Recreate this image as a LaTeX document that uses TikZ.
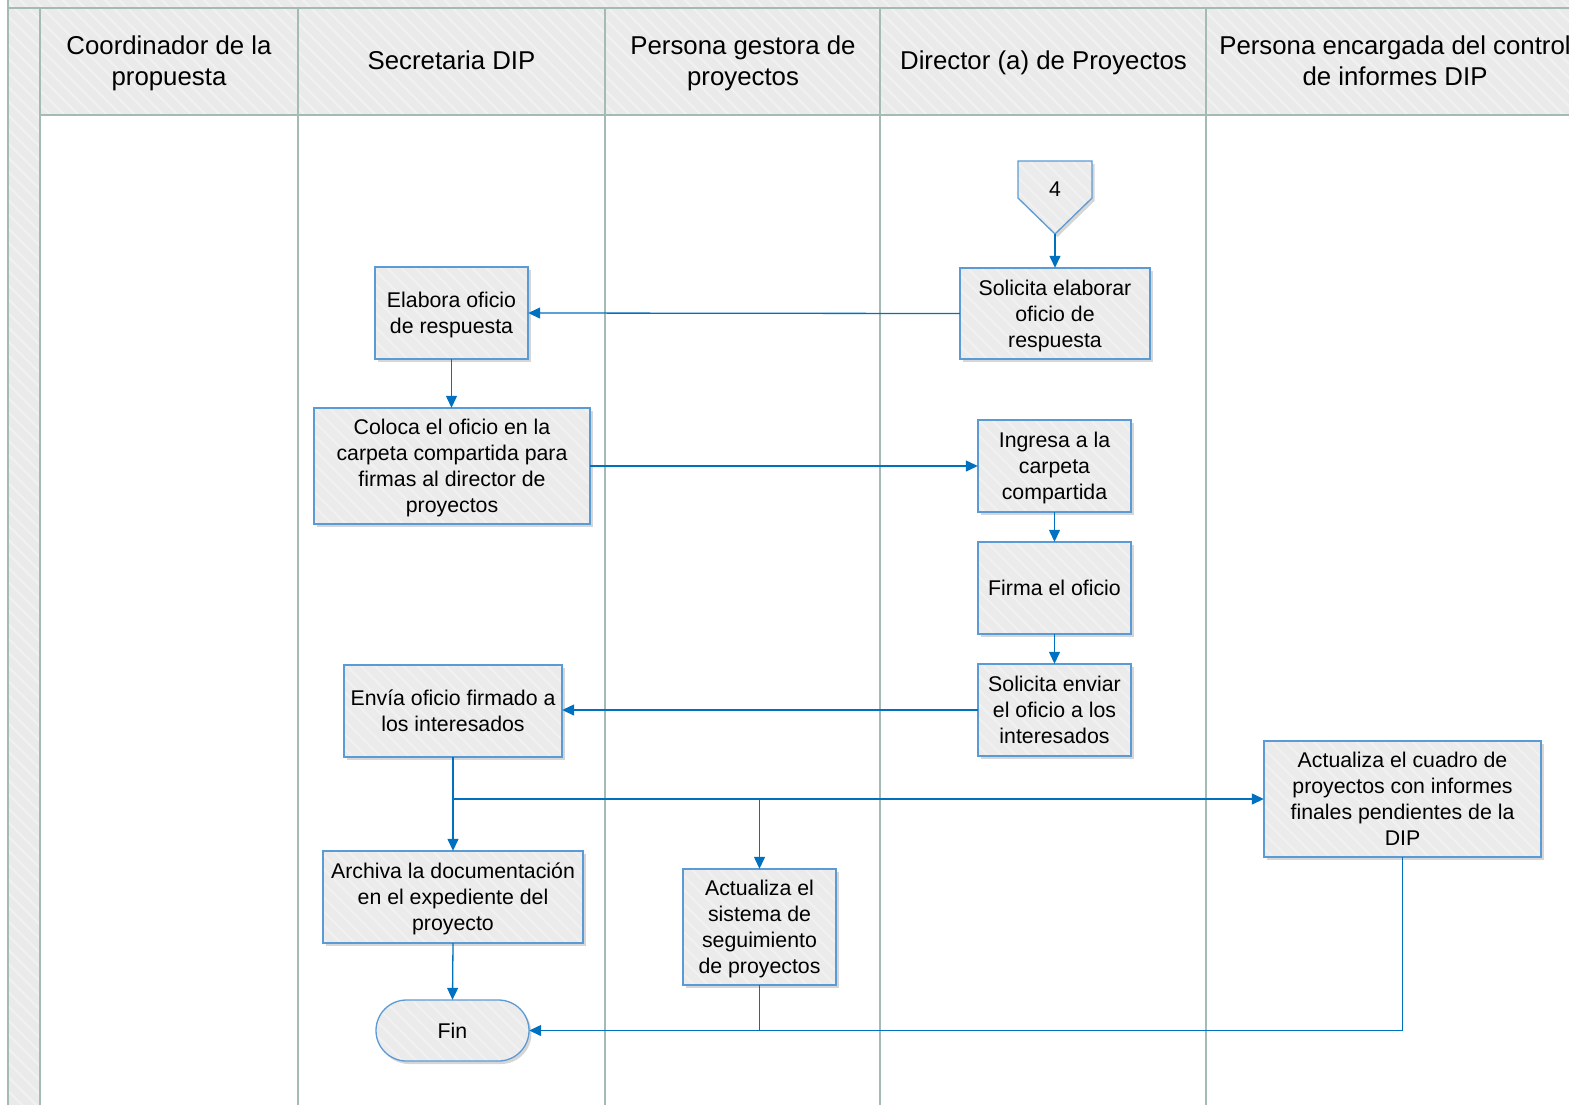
\documentclass[tikz,border=0pt]{standalone}
\usepackage{fontspec}
\setmainfont{Liberation Sans}
\usetikzlibrary{arrows.meta,shadows,shapes.misc,patterns.meta}
\definecolor{lanec}{RGB}{163,186,181}
\definecolor{hdr}{RGB}{234,234,234}
\definecolor{boxb}{RGB}{91,155,213}
\definecolor{boxf}{RGB}{235,235,235}
\definecolor{stripec}{RGB}{241,241,241}
\definecolor{arr}{RGB}{0,112,192}
\tikzdeclarepattern{
  name=softstripes,
  type=uncolored,
  bottom left={(-.1pt,-.1pt)},
  top right={(10.1pt,10.1pt)},
  tile size={(10pt,10pt)},
  tile transformation={rotate=-45},
  code={\draw[line width=2pt] (-1pt,5pt) -- (11pt,5pt);}
}
\newcommand\bxs{\rule[-5pt]{0pt}{25pt}}
\newcommand\hds{\rule[-5.4pt]{0pt}{27.4pt}}
\tikzset{
  lane/.style={draw=lanec, line width=1.4pt},
  hdrtext/.style={align=center, inner sep=0pt, font=\fontsize{25.8}{31}\selectfont},
  shad/.style={drop shadow={shadow xshift=2.5pt, shadow yshift=-3pt, opacity=0.16, fill=black}},
  striped/.style={postaction={pattern=softstripes, pattern color=stripec}},
  reborder/.style={postaction={draw=boxb, line width=1.3pt}},
  proc/.style={fill=boxf, align=center, inner sep=0pt,
    font=\fontsize{21.3}{26}\selectfont, shad, striped, reborder},
  term/.style={proc, rounded rectangle},
  flow/.style={draw=arr, line width=1.3pt, -{Triangle[length=12pt,width=11pt]}},
  link/.style={draw=arr, line width=1.3pt},
}
\begin{document}
\begin{tikzpicture}[x=1pt,y=-1pt]
\useasboundingbox (0,0) rectangle (1569,1104);
% pool and lanes
\fill[hdr, striped] (8,-10) rectangle (1600,8);
\fill[hdr, striped] (8,8) rectangle (40,1110);
\fill[hdr, striped] (40,8) rectangle (1600,115);
\draw[lane] (8,-10) -- (8,1110);
\draw[lane] (8,8) -- (1600,8);
\draw[lane] (40,8) -- (40,1110);
\draw[lane] (40,115) -- (1600,115);
\foreach \x in {298,605,880,1206} {\draw[lane] (\x,8) -- (\x,1110);}
% headers
\node[hdrtext] (h1) at (169,61.5) {\hds Coordinador de la\\propuesta\hds};
\node[hdrtext] (h2) at (451.5,61.5) {\hds Secretaria DIP\hds};
\node[hdrtext] (h3) at (743,61.5) {\hds Persona gestora de\\proyectos\hds};
\node[hdrtext] (h4) at (1043.5,61.5) {\hds Director (a) de Proyectos\hds};
\node[hdrtext] (h5) at (1395,61.5) {\hds Persona encargada del control\\de informes DIP\hds};
% off-page connector
\path[fill=boxf, shad, striped, reborder]
  (1018,161) -- (1092,161) -- (1092,198) -- (1055,234) -- (1018,198) -- cycle;
\node[inner sep=0pt, font=\fontsize{21.3}{26}\selectfont] (c4) at (1055,189) {\bxs 4\bxs};
\coordinate (c4tip) at (1055,234);
% process nodes
\node[proc, minimum width=190pt, minimum height=91pt] (s1) at (1055,313.5) {\bxs Solicita elaborar\\oficio de\\respuesta\bxs};
\node[proc, minimum width=153pt, minimum height=92pt] (e1) at (451.5,313) {\bxs Elabora oficio\\de respuesta\bxs};
\node[proc, minimum width=276pt, minimum height=116pt] (c1) at (452,466) {\bxs Coloca el oficio en la\\carpeta compartida para\\firmas al director de\\proyectos\bxs};
\node[proc, minimum width=153pt, minimum height=92pt] (i1) at (1054.5,466) {\bxs Ingresa a la\\carpeta\\compartida\bxs};
\node[proc, minimum width=153pt, minimum height=92pt] (f1) at (1054.5,588) {\bxs Firma el oficio\bxs};
\node[proc, minimum width=153pt, minimum height=92pt] (s2) at (1054.5,710) {\bxs Solicita enviar\\el oficio a los\\interesados\bxs};
\node[proc, minimum width=218pt, minimum height=92pt] (env) at (453,711) {\bxs Envía oficio firmado a\\los interesados\bxs};
\node[proc, minimum width=260pt, minimum height=92pt] (arc) at (453,897) {\bxs Archiva la documentación\\en el expediente del\\proyecto\bxs};
\node[proc, minimum width=153pt, minimum height=116pt] (sis) at (759.5,927) {\bxs Actualiza el\\sistema de\\seguimiento\\de proyectos\bxs};
\node[proc, minimum width=277pt, minimum height=116pt] (cua) at (1402.5,799) {\bxs Actualiza el cuadro de\\proyectos con informes\\finales pendientes de la\\DIP\bxs};
\node[term, minimum width=153pt, minimum height=61pt] (fin) at (452.5,1030.5) {\bxs Fin\bxs};
% connectors
\draw[flow] (c4tip) -- (s1.north);
\draw[flow] (s1.west) -- (e1.east);
\draw[flow] (e1.south) -- (e1.south |- c1.north);
\draw[flow] (c1.east) -- (i1.west);
\draw[flow] (i1.south) -- (f1.north);
\draw[flow] (f1.south) -- (s2.north);
\draw[flow] (s2.west) -- (s2.west -| env.east);
\coordinate (br) at (453,799);
\coordinate (brs) at (759.5,799);
\draw[link] (env.south) -- (br);
\draw[flow] (br) -- (cua.west);
\draw[flow] (br) -- (arc.north);
\draw[flow] (brs) -- (sis.north);
\draw[flow] (arc.south) -- (fin.north);
\draw[flow] (cua.south) |- (fin.east);
\draw[link] (sis.south) -- (sis.south |- fin.east);
\end{tikzpicture}
\end{document}
